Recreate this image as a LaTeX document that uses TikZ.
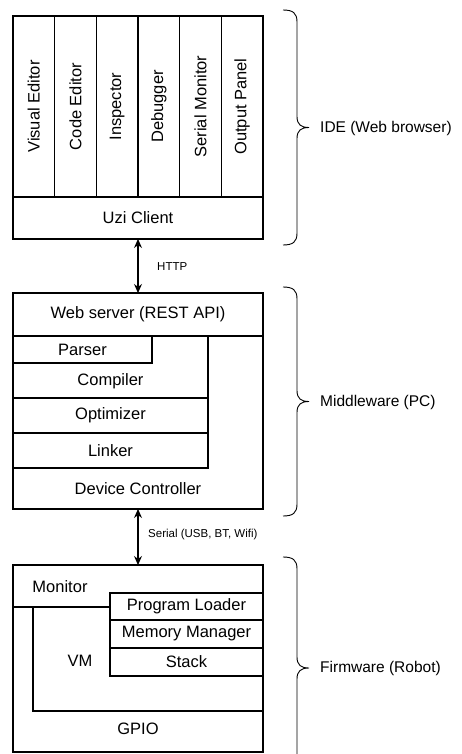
\documentclass[tikz,border=0pt]{standalone}
\usepackage{fontspec}
\setmainfont{Liberation Sans}
\usetikzlibrary{arrows.meta}
\tikzset{
  cell/.style={draw, line width=1.1pt, inner sep=0pt, outer sep=0pt},
  boxtext/.style={font=\fontsize{16.5}{19}\selectfont, inner sep=0pt},
  sidetext/.style={font=\fontsize{15.5}{18}\selectfont, inner sep=0pt, anchor=west},
  smalltext/.style={font=\fontsize{11.5}{14}\selectfont, inner sep=0pt, anchor=west},
  link/.style={line width=1.1pt, {Stealth[length=9pt,width=8pt]}-{Stealth[length=9pt,width=8pt]}},
  bracepath/.style={line width=0.9pt},
  region/.style={line width=1.1pt}
}
\begin{document}
\begin{tikzpicture}[x=1pt,y=-1pt]
\clip (0,0) rectangle (461,754);
\fill[white] (0,0) rectangle (461,754);

% ---------- IDE ----------
\node[cell, minimum width=250pt, minimum height=223pt] (ide) at (138,127.5) {};
\foreach \i/\t in {0/Visual Editor,1/Code Editor,2/Inspector,3/Debugger,4/Serial Monitor,5/Output Panel}{
  \node[cell, minimum width=41.67pt, minimum height=181pt] (col\i) at ({13+41.667*(\i+0.5)},106.5) {};
  \node[boxtext, rotate=90] (lab\i) at (col\i.center) {\t};
}
\node[cell, minimum width=250pt, minimum height=42pt, boxtext] (uzi) at (138,218) {Uzi Client};

% ---------- Middleware ----------
\node[cell, minimum width=250pt, minimum height=216pt] (mw) at (138,401) {};
\node[cell, minimum width=250pt, minimum height=43pt, boxtext] (web) at (138,314.5) {Web server (REST API)};
\node[cell, minimum width=195pt, minimum height=62pt] (comp) at (110.5,367) {};
\node[cell, minimum width=139pt, minimum height=27pt, boxtext] (parser) at (82.5,349.5) {Parser};
\node[boxtext] (compiler) at (110.5,381) {Compiler};
\node[cell, minimum width=195pt, minimum height=35pt, boxtext] (opt) at (110.5,415.5) {Optimizer};
\node[cell, minimum width=195pt, minimum height=35pt, boxtext] (link) at (110.5,450.5) {Linker};
\node[boxtext] (dc) at (138,488.5) {Device Controller};

% ---------- Firmware ----------
\node[cell, minimum width=250pt, minimum height=187pt] (fw) at (138,658.5) {};
\node[boxtext] (monitor) at (60,587) {Monitor};
\coordinate (monL) at (13,607);
\coordinate (monR) at (110,607);
\draw[region] (monL) -- (monR);
\coordinate (vmTop) at (33,607);
\coordinate (vmBL) at (33,711);
\coordinate (vmBR) at (263,711);
\draw[region] (vmTop) -- (vmBL) -- (vmBR);
\node[cell, minimum width=153pt, minimum height=27pt, boxtext] (pl) at (186.5,606.5) {Program Loader};
\node[cell, minimum width=153pt, minimum height=28pt, boxtext] (mm) at (186.5,634) {Memory Manager};
\node[cell, minimum width=153pt, minimum height=28pt, boxtext] (stack) at (186.5,662) {Stack};
\node[boxtext] (vm) at (80,661) {VM};
\node[boxtext] (gpio) at (138,729) {GPIO};

% ---------- Connectors ----------
\draw[link] (uzi.south) -- (web.north);
\node[smalltext] (http) at (157,267) {HTTP};
\draw[link] (mw.south) -- (fw.north);
\node[smalltext] (serial) at (148,535) {Serial (USB, BT, Wifi)};

% ---------- Braces ----------
\foreach \ya/\yb in {10/245, 287/516, 557/779}{
  \pgfmathsetmacro{\ym}{(\ya+\yb)/2}
  \draw[bracepath] (283,\ya) .. controls (293,\ya) and (297,\ya+3) .. (297,\ya+12)
     -- (297,\ym-11) .. controls (297,\ym-3) and (301,\ym) .. (309,\ym)
     .. controls (301,\ym) and (297,\ym+3) .. (297,\ym+11)
     -- (297,\yb-12) .. controls (297,\yb-3) and (293,\yb) .. (283,\yb);
}
\node[sidetext] (ideL) at (320,128) {IDE (Web browser)};
\node[sidetext] (mwL) at (320,402) {Middleware (PC)};
\node[sidetext] (fwL) at (320,668) {Firmware (Robot)};
\end{tikzpicture}
\end{document}
